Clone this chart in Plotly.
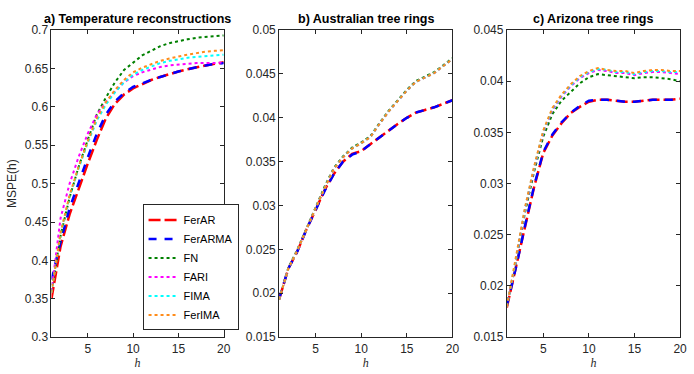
import plotly.graph_objects as go

h = list(range(1, 21))

# Panel a: Temperature reconstructions
a_FerAR   = [0.350, 0.418, 0.460, 0.494, 0.526, 0.557, 0.585, 0.604, 0.616, 0.624, 0.630, 0.635, 0.639, 0.643, 0.646, 0.649, 0.652, 0.654, 0.656, 0.658]
a_FerARMA = [0.375, 0.424, 0.468, 0.502, 0.534, 0.565, 0.590, 0.607, 0.618, 0.626, 0.631, 0.635, 0.639, 0.643, 0.646, 0.649, 0.652, 0.654, 0.656, 0.657]
a_FN      = [0.360, 0.432, 0.482, 0.522, 0.557, 0.590, 0.612, 0.632, 0.648, 0.658, 0.667, 0.673, 0.679, 0.683, 0.686, 0.688, 0.690, 0.691, 0.692, 0.693]
a_FARI    = [0.360, 0.455, 0.500, 0.535, 0.565, 0.590, 0.606, 0.620, 0.632, 0.640, 0.645, 0.649, 0.652, 0.654, 0.655, 0.656, 0.657, 0.657, 0.657, 0.658]
a_FIMA    = [0.358, 0.435, 0.483, 0.520, 0.553, 0.582, 0.603, 0.619, 0.632, 0.642, 0.648, 0.653, 0.657, 0.660, 0.662, 0.664, 0.665, 0.666, 0.667, 0.668]
a_FerIMA  = [0.358, 0.436, 0.485, 0.522, 0.555, 0.585, 0.606, 0.622, 0.635, 0.645, 0.651, 0.656, 0.660, 0.663, 0.666, 0.668, 0.670, 0.672, 0.673, 0.674]

# Panel b: Australian tree rings
b_FerAR   = [0.0193, 0.0228, 0.0248, 0.0273, 0.0295, 0.0318, 0.0336, 0.0350, 0.0359, 0.0362, 0.0370, 0.0378, 0.0385, 0.0393, 0.0400, 0.0406, 0.0409, 0.0412, 0.0416, 0.0420]
b_FerARMA = [0.0194, 0.0228, 0.0248, 0.0273, 0.0295, 0.0317, 0.0336, 0.0350, 0.0358, 0.0362, 0.0370, 0.0378, 0.0385, 0.0393, 0.0400, 0.0406, 0.0409, 0.0412, 0.0416, 0.0420]
b_FN      = [0.0193, 0.0229, 0.0250, 0.0275, 0.0298, 0.0322, 0.0343, 0.0356, 0.0366, 0.0372, 0.0379, 0.0394, 0.0408, 0.0420, 0.0432, 0.0442, 0.0447, 0.0452, 0.0460, 0.0468]
b_FARI    = [0.0193, 0.0228, 0.0249, 0.0274, 0.0297, 0.0320, 0.0342, 0.0355, 0.0365, 0.0371, 0.0378, 0.0393, 0.0407, 0.0419, 0.0431, 0.0441, 0.0446, 0.0451, 0.0459, 0.0467]
b_FIMA    = [0.0193, 0.0228, 0.0249, 0.0274, 0.0297, 0.0320, 0.0342, 0.0355, 0.0365, 0.0371, 0.0378, 0.0393, 0.0407, 0.0419, 0.0431, 0.0441, 0.0446, 0.0451, 0.0459, 0.0467]
b_FerIMA  = [0.0193, 0.0228, 0.0249, 0.0274, 0.0297, 0.0320, 0.0342, 0.0355, 0.0365, 0.0371, 0.0378, 0.0393, 0.0407, 0.0419, 0.0431, 0.0441, 0.0446, 0.0451, 0.0459, 0.0467]

# Panel c: Arizona tree rings
c_FerAR   = [0.0179, 0.0217, 0.0258, 0.0297, 0.0330, 0.0347, 0.0359, 0.0369, 0.0375, 0.0380, 0.0382, 0.0382, 0.0381, 0.0380, 0.0380, 0.0381, 0.0382, 0.0382, 0.0382, 0.0383]
c_FerARMA = [0.0181, 0.0218, 0.0259, 0.0298, 0.0331, 0.0348, 0.0360, 0.0369, 0.0376, 0.0381, 0.0382, 0.0382, 0.0381, 0.0380, 0.0380, 0.0381, 0.0382, 0.0382, 0.0382, 0.0382]
c_FN      = [0.0180, 0.0224, 0.0272, 0.0312, 0.0346, 0.0368, 0.0381, 0.0390, 0.0398, 0.0404, 0.0407, 0.0406, 0.0405, 0.0404, 0.0403, 0.0404, 0.0404, 0.0403, 0.0402, 0.0400]
c_FARI    = [0.0180, 0.0225, 0.0275, 0.0315, 0.0350, 0.0372, 0.0385, 0.0395, 0.0403, 0.0408, 0.0411, 0.0410, 0.0408, 0.0408, 0.0406, 0.0408, 0.0409, 0.0409, 0.0408, 0.0407]
c_FIMA    = [0.0180, 0.0226, 0.0276, 0.0316, 0.0351, 0.0373, 0.0386, 0.0396, 0.0404, 0.0409, 0.0412, 0.0411, 0.0409, 0.0409, 0.0407, 0.0409, 0.0410, 0.0410, 0.0409, 0.0409]
c_FerIMA  = [0.0180, 0.0227, 0.0277, 0.0317, 0.0352, 0.0374, 0.0387, 0.0397, 0.0405, 0.0410, 0.0413, 0.0411, 0.0410, 0.0410, 0.0408, 0.0410, 0.0411, 0.0411, 0.0410, 0.0410]

names = ["FerAR", "FerARMA", "FN", "FARI", "FIMA", "FerIMA"]
colors = ["#FF0000", "#0000FF", "#008000", "#FF00FF", "#00FFFF", "#FF8C1A"]
dashes = ["12px,4px", "8px,8px", "dot", "dot", "dot", "dot"]
widths = [2.5, 2.5, 2, 2, 2, 2]

panels = [
    [a_FerAR, a_FerARMA, a_FN, a_FARI, a_FIMA, a_FerIMA],
    [b_FerAR, b_FerARMA, b_FN, b_FARI, b_FIMA, b_FerIMA],
    [c_FerAR, c_FerARMA, c_FN, c_FARI, c_FIMA, c_FerIMA],
]
titles = ["a) Temperature reconstructions", "b) Australian tree rings", "c) Arizona tree rings"]
yranges = [[0.3, 0.7], [0.015, 0.05], [0.015, 0.045]]
ydtick = [0.05, 0.005, 0.005]

W, H = 694, 374
xdoms = [[52 / W, 226 / W], [282 / W, 457 / W], [512 / W, 687 / W]]
ydom = [1 - 343 / H, 1 - 24 / H]

fig = go.Figure()
for p, series in enumerate(panels):
    sfx = "" if p == 0 else str(p + 1)
    for i, ys in enumerate(series):
        fig.add_trace(go.Scatter(
            x=h, y=ys, mode="lines", name=names[i],
            line=dict(color=colors[i], dash=dashes[i], width=widths[i]),
            xaxis="x" + sfx, yaxis="y" + sfx,
            showlegend=(p == 0),
        ))

font_family = "Liberation Sans, Arial, sans-serif"
axis_common = dict(
    showline=True, linecolor="#262626", linewidth=1, mirror="ticks",
    ticks="inside", ticklen=4, tickcolor="#262626",
    showgrid=False, zeroline=False,
    tickfont=dict(family=font_family, size=12, color="#262626"),
)
layout = dict(
    width=W, height=H,
    margin=dict(l=0, r=0, t=0, b=0),
    paper_bgcolor="white", plot_bgcolor="white",
    showlegend=True,
    legend=dict(
        x=144 / W, y=1 - 336 / H, xanchor="left", yanchor="bottom",
        bgcolor="white", bordercolor="#262626", borderwidth=1,
        font=dict(family=font_family, size=11, color="#000000"),
        tracegroupgap=0, itemwidth=30,
    ),
    annotations=[],
)
for p in range(3):
    sfx = "" if p == 0 else str(p + 1)
    layout["xaxis" + sfx] = dict(
        axis_common, domain=xdoms[p], range=[1, 20],
        tickmode="array", tickvals=[5, 10, 15, 20],
        anchor="y" + sfx, ticklabelstandoff=0,
        title=dict(text="<i>h</i>", standoff=0,
                   font=dict(family="Liberation Serif, Times New Roman, serif", size=12, color="#262626")),
    )
    layout["yaxis" + sfx] = dict(
        axis_common, domain=ydom, range=yranges[p], dtick=ydtick[p],
        tick0=yranges[p][0], anchor="x" + sfx,
    )
    cx = (xdoms[p][0] + xdoms[p][1]) / 2
    layout["annotations"].append(dict(
        text="<b>" + titles[p] + "</b>", x=cx, y=1 - 12 / H, xref="paper", yref="paper",
        xanchor="center", yanchor="middle", showarrow=False,
        font=dict(family=font_family, size=12.5, color="#000000"),
    ))
layout["annotations"].append(dict(
    text="MSPE(h)", x=12 / W, y=1 - 183 / H, xref="paper", yref="paper",
    xanchor="center", yanchor="middle", showarrow=False, textangle=-90,
    font=dict(family=font_family, size=12, color="#262626"),
))

fig.update_layout(**layout)
fig.write_html(
    "out.html",
    config={"displayModeBar": False},
    post_script="document.body.style.margin='0px';document.body.style.overflow='hidden';",
)
